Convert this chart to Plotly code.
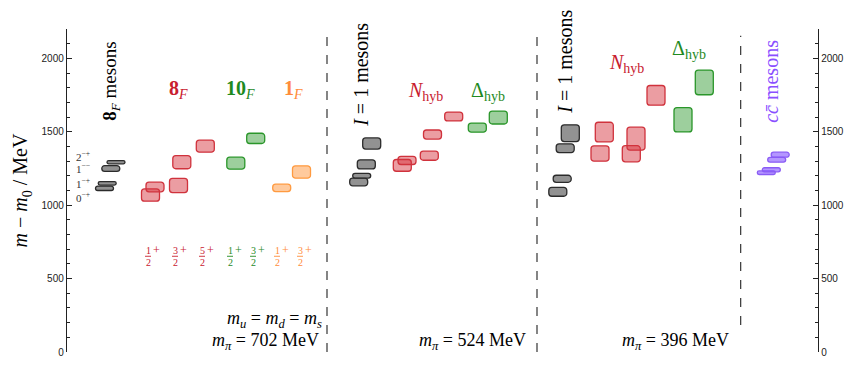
import plotly.graph_objects as go

# ---------------- data (MeV, m - m0) ----------------
mes702_val = [1115, 1149, 1250, 1293]
mes702_err = [15, 12, 20, 11]
mes702_lab = ["0<sup>−+</sup>", "1<sup>−+</sup>", "1<sup>−−</sup>", "2<sup>−+</sup>"]

oct702_val = [1069, 1124, 1134, 1293, 1402]
oct702_err = [42, 33, 48, 45, 41]
dec702_val = [1286, 1455]
dec702_err = [41, 35]
sng702_val = [1118, 1226]
sng702_err = [25, 42]
spin_lab_oct = ["1", "3", "5"]
spin_lab_dec = ["1", "3"]
spin_lab_sng = ["1", "3"]

mes524_val = [1158, 1200, 1278, 1420]
mes524_err = [26, 16, 31, 38]
N524_val = [1271, 1305, 1337, 1481, 1604]
N524_err = [40, 28, 31, 31, 30]
D524_val = [1528, 1597]
D524_err = [31, 44]

mes396_val = [1091, 1180, 1388, 1490]
mes396_err = [30, 24, 30, 57]
N396_val = [1352, 1498, 1350, 1453, 1748]
N396_err = [52, 67, 55, 78, 67]
D396_val = [1582, 1836]
D396_err = [83, 84]

cc_val = [1221, 1241, 1309, 1344]
cc_err = [12, 14, 16, 17]

ytick_vals = [0, 500, 1000, 1500, 2000]

# ---------------- layout positions (horizontal slot coordinates) ----------------
X_RANGE = [67, 818]
pos_mes702 = [104.5, 107.2, 110.8, 116.0]
pos_oct702 = [150.5, 155.0, 178.5, 181.8, 205.3]
pos_dec702 = [235.8, 255.7]
pos_sng702 = [281.7, 301.5]
pos_mes524 = [358.7, 361.7, 366.3, 371.7]
pos_N524 = [402.3, 407.0, 429.3, 432.5, 453.7]
pos_D524 = [477.3, 498.3]
pos_mes396 = [557.8, 562.2, 565.2, 570.3]
pos_N396 = [600.0, 604.3, 631.3, 636.0, 656.0]
pos_D396 = [683.0, 704.3]
pos_cc = [766.3, 771.3, 776.7, 780.2]
BOX_W = 18

GRAY = ("rgba(110,110,110,0.75)", "#2b2b2b")
RED = ("rgba(214,50,60,0.48)", "#d0323c")
GREEN = ("rgba(60,160,60,0.5)", "#2a962a")
ORANGE = ("rgba(255,150,60,0.5)", "#ff9a40")
PURPLE = ("rgba(130,80,255,0.6)", "#8a5cf5")

SERIF = "Liberation Serif, DejaVu Serif, serif"
SANS = "Liberation Sans, Arial, sans-serif"

fig = go.Figure()


def add_boxes(xs, vals, errs, col):
    fig.add_trace(go.Bar(
        x=xs,
        y=[2 * e for e in errs],
        base=[v - e for v, e in zip(vals, errs)],
        width=BOX_W,
        marker=dict(color=col[0], line=dict(color=col[1], width=1.3), cornerradius=3),
        showlegend=False, hoverinfo="skip",
    ))


groups = [
    (pos_mes702, mes702_val, mes702_err, GRAY),
    (pos_oct702, oct702_val, oct702_err, RED),
    (pos_dec702, dec702_val, dec702_err, GREEN),
    (pos_sng702, sng702_val, sng702_err, ORANGE),
    (pos_mes524, mes524_val, mes524_err, GRAY),
    (pos_N524, N524_val, N524_err, RED),
    (pos_D524, D524_val, D524_err, GREEN),
    (pos_mes396, mes396_val, mes396_err, GRAY),
    (pos_N396, N396_val, N396_err, RED),
    (pos_D396, D396_val, D396_err, GREEN),
    (pos_cc, cc_val, cc_err, PURPLE),
]
for g in groups:
    add_boxes(*g)

# dashed separators
for xd, y0, y1 in [(327, 0, 2175), (537, 0, 2154), (740.7, 184, 2154)]:
    fig.add_trace(go.Scatter(x=[xd, xd], y=[y0, y1], mode="lines",
                             line=dict(color="#222", width=1.1, dash="dash"),
                             showlegend=False, hoverinfo="skip"))

ann = []
shapes = []


def txt(x, y, s, size=17, color="black", angle=0, xanchor="center", font=SERIF):
    ann.append(dict(x=x, y=y, xref="x", yref="y", text=s, showarrow=False,
                    textangle=angle, xanchor=xanchor, yanchor="middle",
                    font=dict(family=font, size=size, color=color)))


RED_T = "#c8202f"
GREEN_T = "#1f8a1f"
ORANGE_T = "#ff8c3a"
PURPLE_T = "#8a50ff"

txt(111, 1840, "<b>8</b><sub><i>F</i></sub> mesons", size=19, angle=-90)
txt(178, 1786, "<b>8</b><sub><i>F</i></sub>", size=20, color=RED_T)
txt(240, 1786, "<b>10</b><sub><i>F</i></sub>", size=20, color=GREEN_T)
txt(293, 1786, "<b>1</b><sub><i>F</i></sub>", size=20, color=ORANGE_T)

# J^PC labels for octet mesons
jpc_y = [1058, 1150, 1250, 1332]
for lab, yy in zip(mes702_lab, jpc_y):
    txt(83, yy, lab, size=11, color="#333")

# spin-parity fraction labels (stacked fractions)
for xs, labs, c in [([148, 175, 202], spin_lab_oct, RED_T),
                    ([230, 253], spin_lab_dec, GREEN_T),
                    ([277, 300], spin_lab_sng, ORANGE_T)]:
    for xx, l in zip(xs, labs):
        txt(xx, 690, l, size=10, color=c)
        txt(xx, 612, "2", size=10, color=c)
        txt(xx + 8, 698, "+", size=12, color=c)
        shapes.append(dict(type="line", xref="x", yref="y", x0=xx - 3, x1=xx + 3,
                           y0=652, y1=652, line=dict(color=c, width=0.9)))

txt(361, 1888, "<i>I</i> = 1 mesons", size=20, angle=-90)
txt(425, 1772, "<i>N</i><sub>hyb</sub>", size=20, color=RED_T)
txt(488, 1772, "Δ<sub>hyb</sub>", size=20, color=GREEN_T)

txt(565, 1977, "<i>I</i> = 1 mesons", size=20, angle=-90)
txt(626, 1963, "<i>N</i><sub>hyb</sub>", size=20, color=RED_T)
txt(689, 2059, "Δ<sub>hyb</sub>", size=20, color=GREEN_T)

txt(771, 1840, "<i>cc̄</i> mesons", size=20, angle=-90, color=PURPLE_T)

txt(324, 222, "<i>m</i><sub><i>u</i></sub> = <i>m</i><sub><i>d</i></sub> = <i>m</i><sub><i>s</i></sub>",
    size=18, xanchor="right")
txt(321, 72, "<i>m</i><sub><i>π</i></sub> = 702 MeV", size=18, xanchor="right")
txt(528, 72, "<i>m</i><sub><i>π</i></sub> = 524 MeV", size=18, xanchor="right")
txt(731, 72, "<i>m</i><sub><i>π</i></sub> = 396 MeV", size=18, xanchor="right")

ann.append(dict(x=-0.06, y=0.5, xref="paper", yref="paper", xanchor="center", yanchor="middle",
                text="<i>m</i> − <i>m</i><sub>0</sub> / MeV", textangle=-90, showarrow=False,
                font=dict(family=SERIF, size=20, color="black")))

yax = dict(range=[0, 2200], tickvals=ytick_vals, ticks="inside", ticklen=5, tickwidth=1,
           tickcolor="#222", showline=True, linecolor="#222", linewidth=1.2,
           showgrid=False, zeroline=False,
           minor=dict(dtick=100, ticks="inside", ticklen=3, tickcolor="#222", showgrid=False),
           tickfont=dict(family=SANS, size=10, color="#222"))

fig.update_layout(
    width=863, height=365,
    margin=dict(l=67, r=45, t=29, b=13, autoexpand=False),
    paper_bgcolor="white", plot_bgcolor="white",
    barmode="overlay",
    xaxis=dict(range=X_RANGE, visible=False, showgrid=False, zeroline=False),
    yaxis=yax,
    yaxis2=dict(yax, overlaying="y", side="right", anchor="x"),
    annotations=ann,
    shapes=shapes,
    showlegend=False,
)
# invisible trace to activate right axis
fig.add_trace(go.Scatter(x=[None], y=[None], yaxis="y2", showlegend=False, hoverinfo="skip"))

fig.write_html("out.html", config={"displayModeBar": False, "staticPlot": True},
               post_script="document.body.style.margin='0';document.body.style.overflow='hidden';")
